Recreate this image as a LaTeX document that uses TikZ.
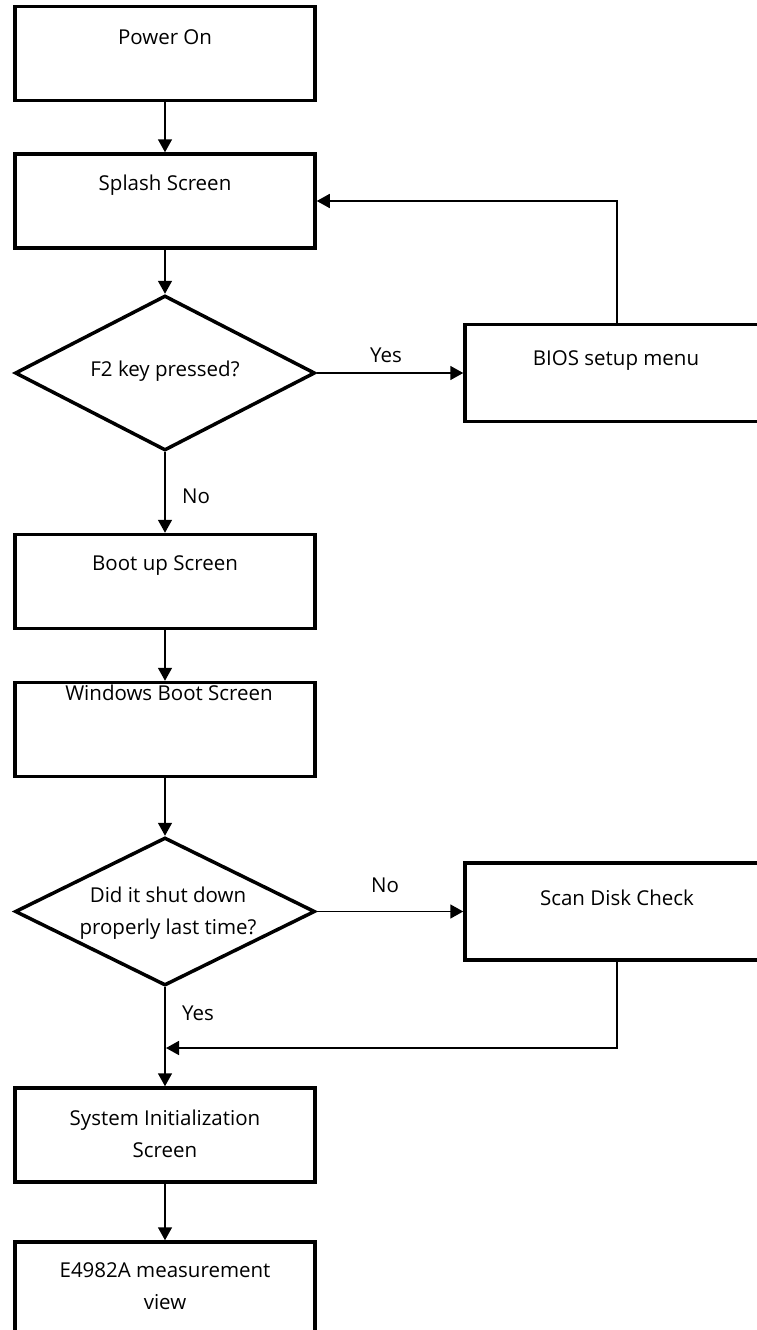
\documentclass[tikz,border=0pt]{standalone}
\usepackage{fontspec}
\setmainfont{Open Sans}
\usetikzlibrary{positioning,shapes.geometric,arrows.meta}

\begin{document}
\begin{tikzpicture}[
    x=1pt, y=-1pt,
    every node/.style={inner sep=0pt},
    stepbox/.style={draw, line width=3.5pt, minimum width=300pt, minimum height=94pt},
    sidebox/.style={stepbox, minimum width=304pt, minimum height=97pt},
    query/.style={diamond, draw, line width=3.5pt, minimum width=300pt, minimum height=#1},
    txt/.style={font=\fontsize{20.5}{32}\selectfont, align=center},
    flow/.style={-{Triangle[length=13pt,width=14pt]}, line width=1.6pt}
]
    \useasboundingbox (0,0) rectangle (757,1330);
    \clip (0,0) rectangle (757,1330);

    % Main column of steps:
    \node[stepbox] (pwr) at (165,53.5) {};
    \node[stepbox] (splash) at (165,201) {};
    \node[query=155pt] (f2) at (165,373) {};
    \node[stepbox] (boot) at (165,581.5) {};
    \node[stepbox] (win) at (165,729.5) {};
    \node[query=148pt] (shut) at (165,911.5) {};
    \node[stepbox] (init) at (165,1135) {};
    \node[stepbox] (meas) at (165,1289) {};

    % Side branches:
    \node[sidebox] (bios) at (617,373) {};
    \node[sidebox] (scan) at (617,911.5) {};
    \coordinate (merge) at (166,1048);

    % Texts:
    \node[txt, anchor=base] (t-pwr) at (165,45) {Power On};
    \node[txt, anchor=base] (t-splash) at (165,190) {Splash Screen};
    \node[txt, anchor=base] (t-f2) at (165,376) {F2 key pressed?};
    \node[txt, anchor=base] (t-bios) at (616,365) {BIOS setup menu};
    \node[txt, anchor=base] (t-boot) at (165,570) {Boot up Screen};
    \node[txt, anchor=base] (t-win) at (169,700) {Windows Boot Screen};
    \node[txt] (t-shut) at (168,913.5) {Did it shut down\\properly last time?};
    \node[txt, anchor=base] (t-scan) at (617,905) {Scan Disk Check};
    \node[txt] (t-init) at (165,1134) {System Initialization\\Screen};
    \node[txt] (t-meas) at (165,1286) {E4982A measurement\\view};

    % Branch labels:
    \node[txt, anchor=base] (l-yes1) at (386,362) {Yes};
    \node[txt, anchor=base] (l-no1) at (196,503) {No};
    \node[txt, anchor=base] (l-no2) at (385,892) {No};
    \node[txt, anchor=base] (l-yes2) at (198,1020) {Yes};

    \path[flow]
        (pwr) edge (splash)
        (splash) edge (f2)
        (f2) edge (bios)
        (f2) edge (boot)
        (boot) edge (win)
        (win) edge (shut)
        (shut) edge (scan)
        (shut) edge (init)
        (init) edge (meas);
    \draw[flow] (bios.north) |- (splash.east);
    \draw[flow] (scan.south) |- (merge);
\end{tikzpicture}
\end{document}
